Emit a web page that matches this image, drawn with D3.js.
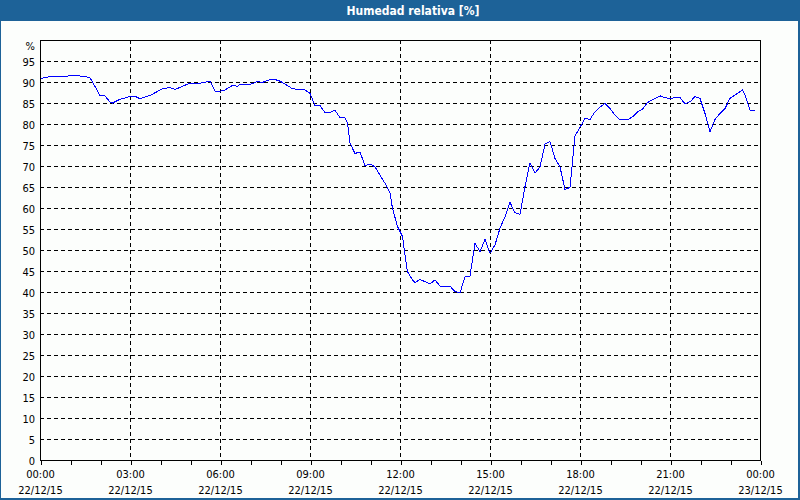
<!DOCTYPE html>
<html><head><meta charset="utf-8">
<script src="https://cdn.jsdelivr.net/npm/d3@7"></script>
<style>html,body{margin:0;padding:0;background:#fcfefc;} svg{display:block;}</style>
</head><body><svg id="c" width="800" height="500"></svg>
<script>
// ---- data (minutes since 22/12/15 00:00, relative humidity %) ----
const minutes = [0,20,55,65,75,90,100,105,120,130,140,145,160,170,180,190,200,220,245,260,270,285,300,320,340,350,360,370,385,395,400,420,435,445,460,470,480,490,505,530,540,550,560,570,580,590,600,610,615,620,630,640,650,660,670,685,690,700,705,715,725,730,735,745,750,760,780,790,800,815,820,830,840,850,860,870,880,890,900,910,920,930,940,950,960,970,980,990,1000,1010,1020,1030,1040,1050,1060,1070,1080,1090,1100,1110,1120,1130,1140,1150,1160,1175,1185,1195,1205,1215,1230,1240,1250,1260,1270,1280,1290,1300,1310,1320,1330,1340,1350,1360,1370,1380,1395,1405,1410,1420,1430];
const humidity = [90.8,91.3,91.4,91.6,91.5,91.3,91.0,90.0,86.8,86.7,85.2,85.0,85.9,86.2,86.6,86.6,86.0,86.8,88.4,88.7,88.2,89.0,89.7,89.7,90.2,87.8,87.8,88.1,89.2,89.0,89.4,89.4,90.1,89.9,90.6,90.6,90.2,89.5,88.4,88.1,87.3,84.4,84.4,82.7,82.7,83.3,81.5,81.5,80.2,75.4,73.0,73.3,70.1,70.5,69.8,66.8,65.9,63.5,59.9,55.6,53.2,48.8,44.8,42.9,42.2,43.0,41.9,42.9,41.4,41.3,41.4,40.1,39.8,43.6,43.8,51.6,49.6,52.5,49.2,51.2,55.2,57.9,61.3,58.9,58.5,65.1,70.8,68.3,69.8,75.2,75.8,71.8,69.8,64.4,64.9,77.2,79.2,81.3,81.1,82.9,84.0,84.9,83.7,82.1,81.0,81.0,81.7,82.9,83.5,85.1,86.1,86.7,86.3,86.0,86.3,86.3,84.8,85.3,86.5,86.1,82.5,78.2,81.1,82.5,83.7,86.1,87.3,88.1,86.9,83.3,83.1];
const yTicks = [0,5,10,15,20,25,30,35,40,45,50,55,60,65,70,75,80,85,90,95];
const yGrid = [5,10,15,20,25,30,35,40,45,50,55,60,65,70,75,80,85,90,95];
const xMinorHours = d3.range(0, 25);
const xMajorHours = [0,3,6,9,12,15,18,21,24];
const xTimeLabels = ["00:00","03:00","06:00","09:00","12:00","15:00","18:00","21:00","00:00"];
const xDateLabels = ["22/12/15","22/12/15","22/12/15","22/12/15","22/12/15","22/12/15","22/12/15","22/12/15","23/12/15"];
const titleText = "Humedad relativa [%]";
const unitText = "%";

const FONT = "Tahoma, 'DejaVu Sans Condensed', 'Liberation Sans', sans-serif";
const svg = d3.select("#c");
const L = 40, R = 760, T = 40, B = 460;

const x = d3.scaleLinear().domain([0, 1440]).range([L, R]);
const y = d3.scaleLinear().domain([0, 100]).range([B, T]);

// background
svg.append("rect").attr("x",0).attr("y",0).attr("width",800).attr("height",500).attr("fill","#fcfefc");
// window frame + title bar
svg.append("rect").attr("x",0).attr("y",0).attr("width",800).attr("height",21).attr("fill","#1d6298");
svg.append("rect").attr("x",0).attr("y",0).attr("width",1).attr("height",500).attr("fill","#1d6298");
svg.append("rect").attr("x",798).attr("y",0).attr("width",2).attr("height",500).attr("fill","#1d6298");
svg.append("rect").attr("x",0).attr("y",498).attr("width",800).attr("height",2).attr("fill","#1d6298");
svg.append("text").attr("x",413).attr("y",15).attr("text-anchor","middle")
  .attr("fill","#ffffff").attr("font-family",FONT).attr("font-weight","bold").attr("font-size","12px")
  .text(titleText);

// grid
const grid = svg.append("g").attr("stroke","#000").attr("stroke-width",1)
  .attr("stroke-dasharray","4,3").attr("shape-rendering","crispEdges");
grid.selectAll("line.h").data(yGrid).join("line").attr("class","h")
  .attr("x1",L).attr("x2",R).attr("y1",d=>Math.round(y(d))+0.5).attr("y2",d=>Math.round(y(d))+0.5);
grid.selectAll("line.v").data(xMajorHours.slice(1,-1)).join("line").attr("class","v")
  .attr("y1",T).attr("y2",B).attr("x1",d=>Math.round(x(d*60))+0.5).attr("x2",d=>Math.round(x(d*60))+0.5);

// x axis ticks (hourly)
const xAxis = d3.axisBottom(x).tickValues(xMinorHours.map(h=>h*60)).tickFormat("").tickSizeInner(4).tickSizeOuter(0);
const gx = svg.append("g").attr("transform",`translate(0.5,${B+0.5})`).attr("shape-rendering","crispEdges").call(xAxis);
gx.select(".domain").remove();
gx.selectAll("line").attr("stroke","#000");

// x labels
const xl = svg.append("g").attr("font-family",FONT).attr("font-size","11px").attr("fill","#000").attr("text-anchor","middle");
xMajorHours.forEach((h,i)=>{
  const t = xl.append("text").attr("x",x(h*60)+0.5);
  t.append("tspan").attr("x",x(h*60)+0.5).attr("y",478).text(xTimeLabels[i]);
  t.append("tspan").attr("x",x(h*60)+0.5).attr("y",494).text(xDateLabels[i]);
});

// y axis labels
const yAxis = d3.axisLeft(y).tickValues(yTicks).tickSize(0).tickPadding(5).tickFormat(d=>d);
const gy = svg.append("g").attr("transform",`translate(${L},0.5)`).call(yAxis);
gy.select(".domain").remove();
gy.selectAll("text").attr("font-family",FONT).attr("font-size","11px").attr("fill","#000");
svg.append("text").attr("x",L-5).attr("y",50).attr("text-anchor","end")
  .attr("font-family",FONT).attr("font-size","11px").attr("fill","#000").text(unitText);

// line
const line = d3.line().x((d,i)=>x(minutes[i])).y((d,i)=>y(humidity[i]));
svg.append("path").datum(humidity).attr("d",line).attr("fill","none")
  .attr("stroke","#0000ff").attr("stroke-width",1).attr("shape-rendering","crispEdges");

// plot frame
svg.append("rect").attr("x",L+0.5).attr("y",T+0.5).attr("width",R-L).attr("height",B-T)
  .attr("fill","none").attr("stroke","#000").attr("stroke-width",1).attr("shape-rendering","crispEdges");
</script></body></html>
